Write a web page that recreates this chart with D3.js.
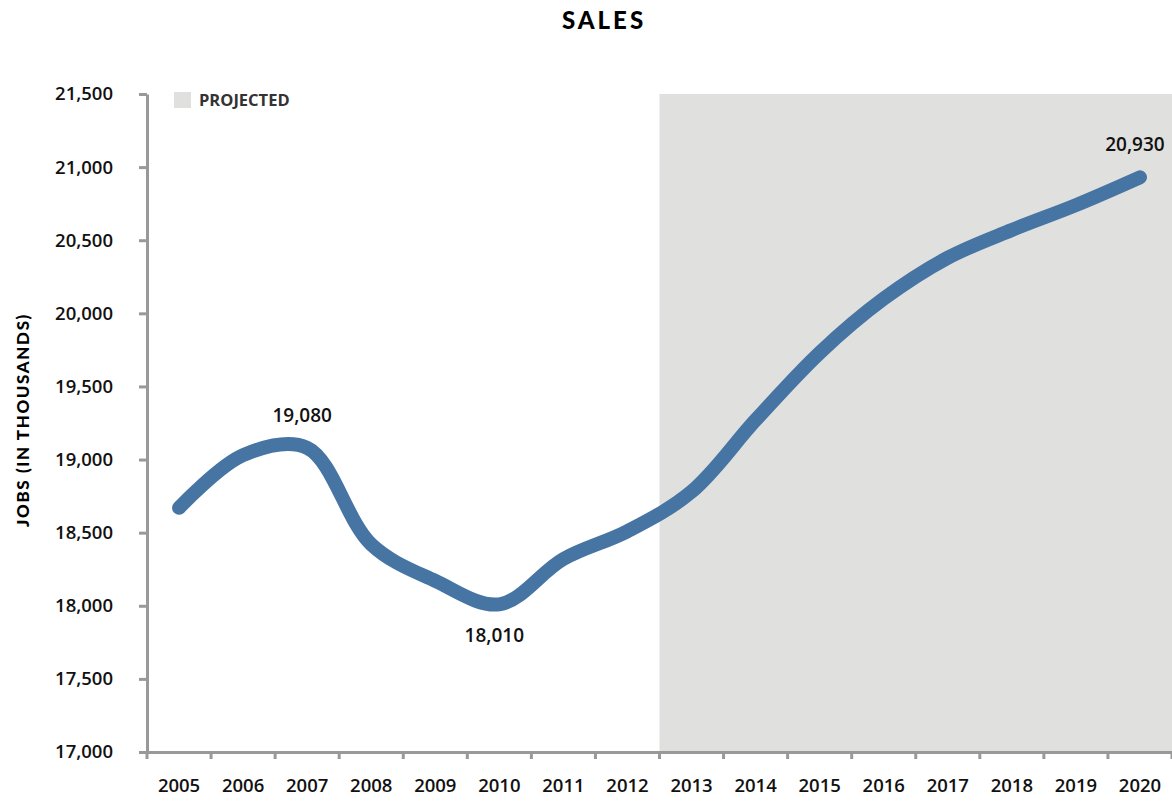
<!DOCTYPE html>
<html><head><meta charset="utf-8">
<script src="https://cdn.jsdelivr.net/npm/d3@7"></script>
<style>body{margin:0;background:#fff}svg{display:block}</style>
</head><body>
<svg id="c" width="1172" height="802"></svg>
<script>
const years = ["2005","2006","2007","2008","2009","2010","2011","2012","2013","2014","2015","2016","2017","2018","2019","2020"];
const jobs = [18670,19030,19080,18420,18170,18010,18320,18510,18780,19270,19730,20100,20380,20570,20740,20930];
const yTicks = [17000,17500,18000,18500,19000,19500,20000,20500,21000,21500];
const projectedFrom = "2013";
const labeled = {"2007":"above","2010":"below","2020":"above"};

const W=1172,H=802, m={l:147,r:0,t:94,b:50};
const svg=d3.select("#c");
const x=d3.scaleBand().domain(years).range([m.l,W-m.r]);
const y=d3.scaleLinear().domain([17000,21500]).range([H-m.b,m.t]);
const cx=d=>x(d)+x.bandwidth()/2;

// projected shading
svg.append("rect").attr("x",x(projectedFrom)).attr("y",y(21500))
  .attr("width",W-m.r-x(projectedFrom)).attr("height",y(17000)-y(21500)).attr("fill","#e0e0df");

// legend
svg.append("rect").attr("x",174).attr("y",92).attr("width",17).attr("height",16).attr("fill","#e0e0df");
svg.append("text").attr("x",199).attr("y",106).text("PROJECTED")
  .style("font-family","'Open Sans'").style("font-weight",700).style("font-size","16.5px").attr("fill","#333");

// y axis
const ya=svg.append("g").attr("transform",`translate(${m.l},0)`)
  .call(d3.axisLeft(y).tickValues(yTicks).tickFormat(d3.format(",")).tickSize(8).tickSizeOuter(0).tickPadding(26));
ya.select(".domain").attr("stroke","#999").attr("stroke-width",3);
ya.selectAll(".tick line").attr("stroke","#999").attr("stroke-width",3);
ya.selectAll(".tick text").style("font-family","'Open Sans'").style("font-weight",600).style("font-size","18.5px").attr("fill","#111");

// x axis
const xa=svg.append("g").attr("transform",`translate(0,${H-m.b})`)
  .call(d3.axisBottom(x).tickSize(0).tickPadding(27));
xa.select(".domain").attr("stroke","#999").attr("stroke-width",3);
xa.selectAll(".tick text").style("font-family","'Open Sans'").style("font-weight",600).style("font-size","18.5px").attr("fill","#111");
svg.append("g").selectAll("line").data(years.slice(0).concat(["end"])).join("line")
  .attr("x1",(d,i)=>m.l+i*x.bandwidth()).attr("x2",(d,i)=>m.l+i*x.bandwidth())
  .attr("y1",H-m.b).attr("y2",H-m.b+7).attr("stroke","#999").attr("stroke-width",3);

// line
const line=d3.line().x((d,i)=>cx(years[i])).y(d=>y(d)).curve(d3.curveCatmullRom.alpha(0.5));
svg.append("path").datum(jobs).attr("d",line).attr("fill","none")
  .attr("stroke","#4674a3").attr("stroke-width",14).attr("stroke-linecap","round").attr("stroke-linejoin","round");

// labels
years.forEach((yr,i)=>{
  if(!labeled[yr]) return;
  const above=labeled[yr]==="above";
  svg.append("text").attr("x",cx(yr)-5).attr("y",y(jobs[i])+(above?-26:38))
    .attr("text-anchor","middle").text(d3.format(",")(jobs[i]))
    .style("font-family","'Open Sans'").style("font-weight",600).style("font-size","19px").attr("fill","#111");
});

// title
svg.append("text").attr("x",604).attr("y",29).attr("text-anchor","middle").text("SALES")
  .style("font-family","Lato").style("font-weight",900).style("font-size","24px").style("letter-spacing","3px").attr("fill","#000");
// y title
svg.append("text").attr("transform","translate(29,420) rotate(-90)").attr("text-anchor","middle")
  .text("JOBS (IN THOUSANDS)").style("font-family","Lato").style("font-weight",900).style("font-size","17px").style("letter-spacing","1.6px").attr("fill","#000");
</script>
</body></html>
